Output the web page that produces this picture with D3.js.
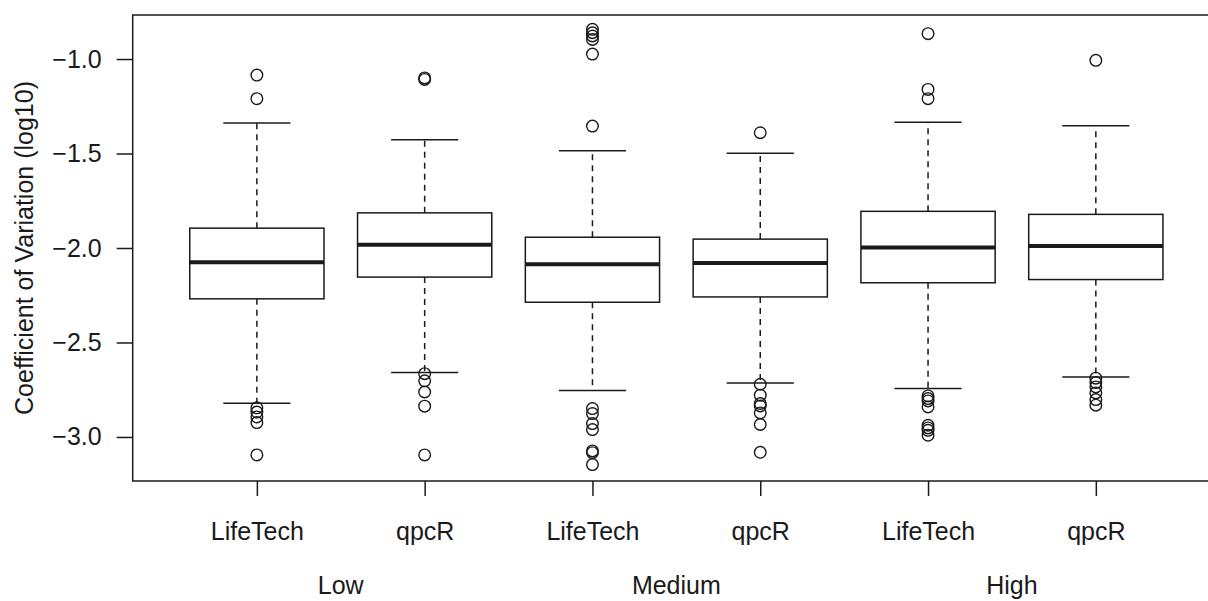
<!DOCTYPE html>
<html><head><meta charset="utf-8">
<script src="https://cdn.jsdelivr.net/npm/d3@7"></script>
<style>body{margin:0;background:#fff}svg{display:block}text{font-family:"Liberation Sans",Arial,Helvetica,sans-serif;fill:#1a1a1a}</style>
</head><body>
<script>
// Data
const methods = ["LifeTech","qpcR","LifeTech","qpcR","LifeTech","qpcR"];
const levels = ["Low","Medium","High"];
const yTicks = [-1.0,-1.5,-2.0,-2.5,-3.0];
const whiskerHigh = [-1.339,-1.427,-1.486,-1.499,-1.335,-1.353];
const q3 = [-1.895,-1.814,-1.943,-1.953,-1.806,-1.822];
const medians = [-2.075,-1.983,-2.086,-2.079,-1.997,-1.990];
const q1 = [-2.269,-2.154,-2.287,-2.259,-2.184,-2.167];
const whiskerLow = [-2.822,-2.659,-2.754,-2.714,-2.744,-2.682];
const outliers = [
  [-1.085,-1.210,-2.846,-2.868,-2.894,-2.924,-3.095],
  [-1.100,-1.108,-2.665,-2.703,-2.762,-2.837,-3.095],
  [-0.843,-0.861,-0.878,-0.896,-0.974,-1.355,-2.850,-2.876,-2.929,-2.961,-3.074,-3.083,-3.146],
  [-1.390,-2.721,-2.779,-2.823,-2.836,-2.873,-2.934,-3.081],
  [-0.866,-1.161,-1.210,-2.783,-2.797,-2.809,-2.841,-2.938,-2.952,-2.965,-2.991],
  [-1.007,-2.689,-2.712,-2.735,-2.767,-2.802,-2.832]
];

const W=1208,H=601;
const svg=d3.select("body").append("svg").attr("width",W).attr("height",H);
const x=d3.scaleLinear().domain([0.26,6.74]).range([132.7,1220]);
const y=d3.scaleLinear().domain([-3.233,-0.767]).range([481,15]);
const col="#1a1a1a";
const fs=25;
const bw=(x(1)-x(0))*0.8;

// boxes
const idx=d3.range(6);
const g=svg.append("g");
idx.forEach(i=>{
  const cx=x(i+1);
  g.append("line").attr("x1",cx).attr("x2",cx).attr("y1",y(q3[i])).attr("y2",y(whiskerHigh[i]))
    .attr("stroke",col).attr("stroke-width",1.5).attr("stroke-dasharray","6,5");
  g.append("line").attr("x1",cx).attr("x2",cx).attr("y1",y(q1[i])).attr("y2",y(whiskerLow[i]))
    .attr("stroke",col).attr("stroke-width",1.5).attr("stroke-dasharray","6,5");
  [whiskerHigh[i],whiskerLow[i]].forEach(v=>{
    g.append("line").attr("x1",cx-bw/4).attr("x2",cx+bw/4).attr("y1",y(v)).attr("y2",y(v))
      .attr("stroke",col).attr("stroke-width",1.5);
  });
  g.append("rect").attr("x",cx-bw/2).attr("width",bw).attr("y",y(q3[i])).attr("height",y(q1[i])-y(q3[i]))
    .attr("fill","#fff").attr("stroke",col).attr("stroke-width",1.5);
  g.append("line").attr("x1",cx-bw/2).attr("x2",cx+bw/2).attr("y1",y(medians[i])).attr("y2",y(medians[i]))
    .attr("stroke",col).attr("stroke-width",4);
  outliers[i].forEach(v=>{
    g.append("circle").attr("cx",cx).attr("cy",y(v)).attr("r",5.8)
      .attr("fill","none").attr("stroke",col).attr("stroke-width",1.4);
  });
});

// frame
svg.append("rect").attr("x",132.7).attr("y",15).attr("width",1220-132.7).attr("height",481-15)
  .attr("fill","none").attr("stroke",col).attr("stroke-width",1.5);

// y axis
const ya=svg.append("g").attr("transform","translate(132.7,0)")
  .call(d3.axisLeft(y).tickValues(yTicks).tickSize(16).tickPadding(15).tickFormat(d=>d3.format(".1f")(d).replace("-","\u2212")));
ya.select(".domain").remove();
ya.selectAll("line").attr("stroke",col).attr("stroke-width",1.5);
ya.selectAll("text").attr("font-size",fs).style("fill",col);

// x axis
const xa=svg.append("g").attr("transform","translate(0,481)")
  .call(d3.axisBottom(x).tickValues(idx.map(i=>i+1)).tickSize(15).tickFormat((d,i)=>methods[i]));
xa.select(".domain").remove();
xa.selectAll("line").attr("stroke",col).attr("stroke-width",1.5);
xa.selectAll("text").attr("font-size",fs).attr("y",59).attr("dy",null).style("fill",col);

// group labels
svg.append("g").selectAll("text").data(levels).join("text")
  .attr("x",(d,i)=>(x(2*i+1)+x(2*i+2))/2).attr("y",594)
  .attr("text-anchor","middle").attr("font-size",fs).text(d=>d);

// y title
svg.append("text").attr("transform","translate(33,248) rotate(-90)")
  .attr("text-anchor","middle").attr("font-size",fs).text("Coefficient of Variation (log10)");
</script>
</body></html>
